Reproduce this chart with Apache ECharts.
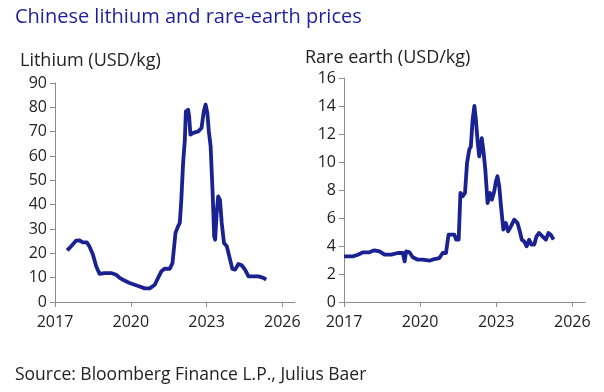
<!DOCTYPE html>
<html><head><meta charset="utf-8">
<script src="https://cdn.jsdelivr.net/npm/echarts@6/dist/echarts.min.js"></script>
<style>html,body{margin:0;padding:0;background:#fff}#c{width:604px;height:392px}</style>
</head><body><div id="c"></div>
<script>
const titleText = "Chinese lithium and rare-earth prices";
const leftLabel = "Lithium (USD/kg)";
const rightLabel = "Rare earth (USD/kg)";
const sourceText = "Source: Bloomberg Finance L.P., Julius Baer";
const xTicks = [2017, 2020, 2023, 2026];

const lithiumYears = [2017.48,2017.64,2017.83,2017.97,2018.1,2018.26,2018.36,2018.5,2018.63,2018.76,2018.96,2019.22,2019.42,2019.56,2019.75,2019.95,2020.15,2020.35,2020.55,2020.75,2020.95,2021.08,2021.21,2021.34,2021.54,2021.65,2021.77,2021.87,2021.94,2022.0,2022.07,2022.14,2022.18,2022.27,2022.31,2022.36,2022.47,2022.67,2022.8,2022.89,2022.96,2023.03,2023.09,2023.16,2023.24,2023.3,2023.34,2023.4,2023.46,2023.53,2023.6,2023.69,2023.8,2023.93,2024.02,2024.13,2024.26,2024.39,2024.52,2024.66,2024.85,2025.05,2025.25,2025.36];
const lithiumValues = [21.2,22.9,25.2,25.3,24.5,24.5,22.9,19.5,14.7,11.6,11.9,11.9,11.2,9.9,8.8,7.8,7.1,6.4,5.6,5.6,7.1,9.9,12.6,13.7,13.6,16,28.4,31.1,32.5,42,57,66.7,78.4,79,76.3,68.8,69.5,70.1,71.5,78.4,81.1,77.7,70.1,64,44.8,27,25.6,36.6,43.4,42,32.5,24.2,22.9,17.4,13.6,13.3,15.6,15.1,13.3,10.5,10.5,10.5,9.9,9.2];

const rareYears = [2017.0,2017.35,2017.55,2017.75,2018.0,2018.2,2018.4,2018.6,2018.86,2019.12,2019.32,2019.39,2019.45,2019.58,2019.71,2019.91,2020.1,2020.37,2020.56,2020.76,2020.89,2021.02,2021.12,2021.22,2021.35,2021.42,2021.52,2021.59,2021.68,2021.77,2021.85,2021.94,2022.0,2022.07,2022.14,2022.2,2022.27,2022.33,2022.43,2022.49,2022.57,2022.66,2022.75,2022.83,2022.92,2022.99,2023.05,2023.12,2023.19,2023.28,2023.38,2023.47,2023.58,2023.71,2023.84,2023.93,2024.01,2024.1,2024.2,2024.3,2024.39,2024.5,2024.59,2024.69,2024.82,2024.96,2025.06,2025.15,2025.26];
const rareValues = [3.26,3.26,3.38,3.55,3.55,3.69,3.62,3.38,3.38,3.5,3.5,2.9,3.62,3.55,3.2,3.02,3.02,2.95,3.07,3.14,3.5,3.5,4.81,4.81,4.81,4.45,4.45,7.79,7.55,7.79,9.93,10.9,11.1,13.0,14.0,13.0,11.4,10.4,11.7,10.9,9.45,7.07,7.79,7.31,7.9,8.62,8.98,8.26,6.83,5.17,5.64,5.05,5.4,5.88,5.64,5.05,4.45,4.33,3.98,4.45,4.1,4.1,4.69,4.93,4.69,4.45,4.93,4.81,4.45];

const FONT = '"Open Sans"';
const LINE = '#1a2190';
const AXIS = '#8c8c8c';
const TXT = '#222';

function pairs(xs, ys){ return xs.map((x,i)=>[x, ys[i]]); }

function xAxis(idx){
  return {
    type:'value', gridIndex: idx, min:2017, max:2026.5, interval:3,
    splitLine:{show:false},
    axisLine:{show:true, lineStyle:{color:AXIS, width:1}},
    axisTick:{show:true, length:5, lineStyle:{color:AXIS}, customValues: xTicks},
    axisLabel:{color:TXT, fontFamily:FONT, fontSize:16, margin:12, customValues: xTicks, formatter: v => String(v)}
  };
}
function yAxis(idx, max, interval){
  return {
    type:'value', gridIndex: idx, min:0, max:max, interval:interval,
    splitLine:{show:false},
    axisLine:{show:true, lineStyle:{color:AXIS, width:1}},
    axisTick:{show:true, length:5, lineStyle:{color:AXIS}},
    axisLabel:{color:TXT, fontFamily:FONT, fontSize:16, margin:8}
  };
}
function txt(t, x, y, size, color){
  return {type:'text', x:x, y:y, style:{text:t, fill:color, font: size + 'px ' + FONT, textVerticalAlign:'middle', verticalAlign:'middle'}};
}

const chart = echarts.init(document.getElementById('c'), null, {renderer:'canvas'});
chart.setOption({
  animation:false,
  backgroundColor:'#fff',
  graphic:[
    txt(titleText, 15, 17, 20, '#1f1f9e'),
    txt(leftLabel, 20, 61, 18, TXT),
    txt(rightLabel, 305, 58, 18, TXT),
    txt(sourceText, 15, 375, 17.5, TXT)
  ],
  grid:[
    {left:55, top:83, width:240, height:219},
    {left:344, top:78, width:241, height:224}
  ],
  xAxis:[xAxis(0), xAxis(1)],
  yAxis:[yAxis(0,90,10), yAxis(1,16,2)],
  series:[
    {type:'line', xAxisIndex:0, yAxisIndex:0, data:pairs(lithiumYears, lithiumValues), showSymbol:false, lineStyle:{color:LINE, width:3.8, join:'round'}},
    {type:'line', xAxisIndex:1, yAxisIndex:1, data:pairs(rareYears, rareValues), showSymbol:false, lineStyle:{color:LINE, width:3.8, join:'round'}}
  ]
});
</script></body></html>
